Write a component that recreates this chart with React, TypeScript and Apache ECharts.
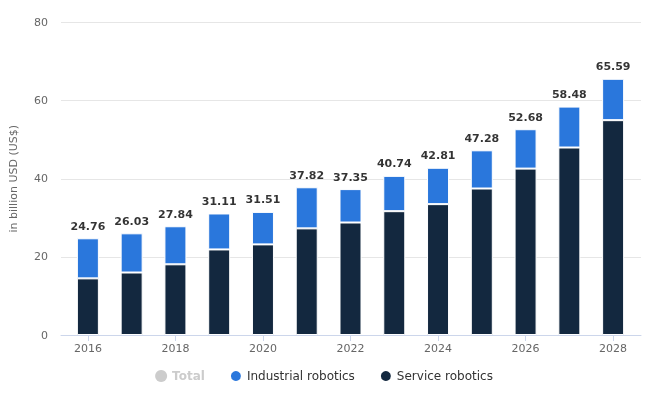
import React, { useEffect, useRef } from "react";
import * as echarts from "echarts";

const years = ["2016","2017","2018","2019","2020","2021","2022","2023","2024","2025","2026","2027","2028"];
const totals = [24.76, 26.03, 27.84, 31.11, 31.51, 37.82, 37.35, 40.74, 42.81, 47.28, 52.68, 58.48, 65.59];
const service = [14.5, 16.0, 18.1, 21.9, 23.2, 27.3, 28.8, 31.7, 33.5, 37.5, 42.6, 48.0, 55.0];
const industrial = [10.26, 10.03, 9.74, 9.21, 8.31, 10.52, 8.55, 9.04, 9.31, 9.78, 10.08, 10.48, 10.59];
const yTicks = { min: 0, max: 80, interval: 20 };

const FONT = "DejaVu Sans";

export default function App() {
  const ref = useRef<HTMLDivElement>(null);
  useEffect(() => {
    if (!ref.current) return;
    const chart = echarts.init(ref.current, null, { renderer: "svg" });
    chart.setOption({
      animation: false,
      textStyle: { fontFamily: FONT },
      grid: [
        { left: 60, right: 7, top: 22.5, bottom: 63 },
        { left: 66, right: 13, top: 22.5, bottom: 63 },
      ],
      legend: {
        bottom: 10,
        left: "center",
        icon: "circle",
        itemWidth: 12,
        itemHeight: 12,
        itemGap: 24,
        selectedMode: false,
        textStyle: { fontFamily: FONT, fontSize: 12, color: "#333" },
        data: [
          { name: "Total", itemStyle: { color: "#cccccc", opacity: 1 }, textStyle: { color: "#cccccc", fontWeight: "bold" } },
          { name: "Industrial robotics" },
          { name: "Service robotics" },
        ],
      },
      xAxis: [
        {
          gridIndex: 0,
          type: "category",
          data: years,
          axisLine: { show: true, lineStyle: { color: "#ccd6eb" } },
          axisTick: { show: false },
          axisLabel: { show: false },
        },
        {
          gridIndex: 1,
          type: "category",
          data: years,
          axisLine: { show: false },
          axisTick: { show: true, alignWithLabel: true, interval: 1, length: 6, lineStyle: { color: "#ccd6eb" } },
          axisLabel: { interval: 1, color: "#666", fontSize: 11, margin: 8, fontFamily: FONT },
        },
      ],
      yAxis: [
        {
          gridIndex: 0,
          type: "value",
          min: yTicks.min,
          max: yTicks.max,
          interval: yTicks.interval,
          name: "in billion USD (US$)",
          nameLocation: "middle",
          nameGap: 42,
          nameTextStyle: { color: "#666", fontSize: 11, fontFamily: FONT },
          axisLabel: { color: "#666", fontSize: 11, margin: 13, fontFamily: FONT },
          splitLine: { lineStyle: { color: "#e6e6e6" } },
          axisLine: { show: false },
          axisTick: { show: false },
        },
        {
          gridIndex: 1,
          type: "value",
          min: yTicks.min,
          max: yTicks.max,
          interval: yTicks.interval,
          show: false,
          splitLine: { show: false },
        },
      ],
      series: [
        {
          name: "Service robotics",
          type: "bar",
          stack: "s",
          xAxisIndex: 1,
          yAxisIndex: 1,
          barWidth: 22,
          data: service,
          itemStyle: { color: "#13283f", borderColor: "#fff", borderWidth: 1 },
        },
        {
          name: "Industrial robotics",
          type: "bar",
          stack: "s",
          xAxisIndex: 1,
          yAxisIndex: 1,
          barWidth: 22,
          data: industrial,
          itemStyle: { color: "#2a77dc", borderColor: "#fff", borderWidth: 1 },
        },
        {
          name: "Total",
          type: "scatter",
          xAxisIndex: 1,
          yAxisIndex: 1,
          data: totals,
          symbol: "circle",
          symbolSize: 1,
          itemStyle: { color: "rgba(0,0,0,0)" },
          label: {
            show: true,
            position: "top",
            distance: 6,
            color: "#000",
            fontWeight: "bold",
            fontSize: 11,
            fontFamily: FONT,
            formatter: (p: any) => Number(p.value).toFixed(2),
          },
        },
      ],
    });
    return () => chart.dispose();
  }, []);
  return <div ref={ref} style={{ position: "fixed", left: 0, top: 0, width: 648, height: 398 }} />;
}
